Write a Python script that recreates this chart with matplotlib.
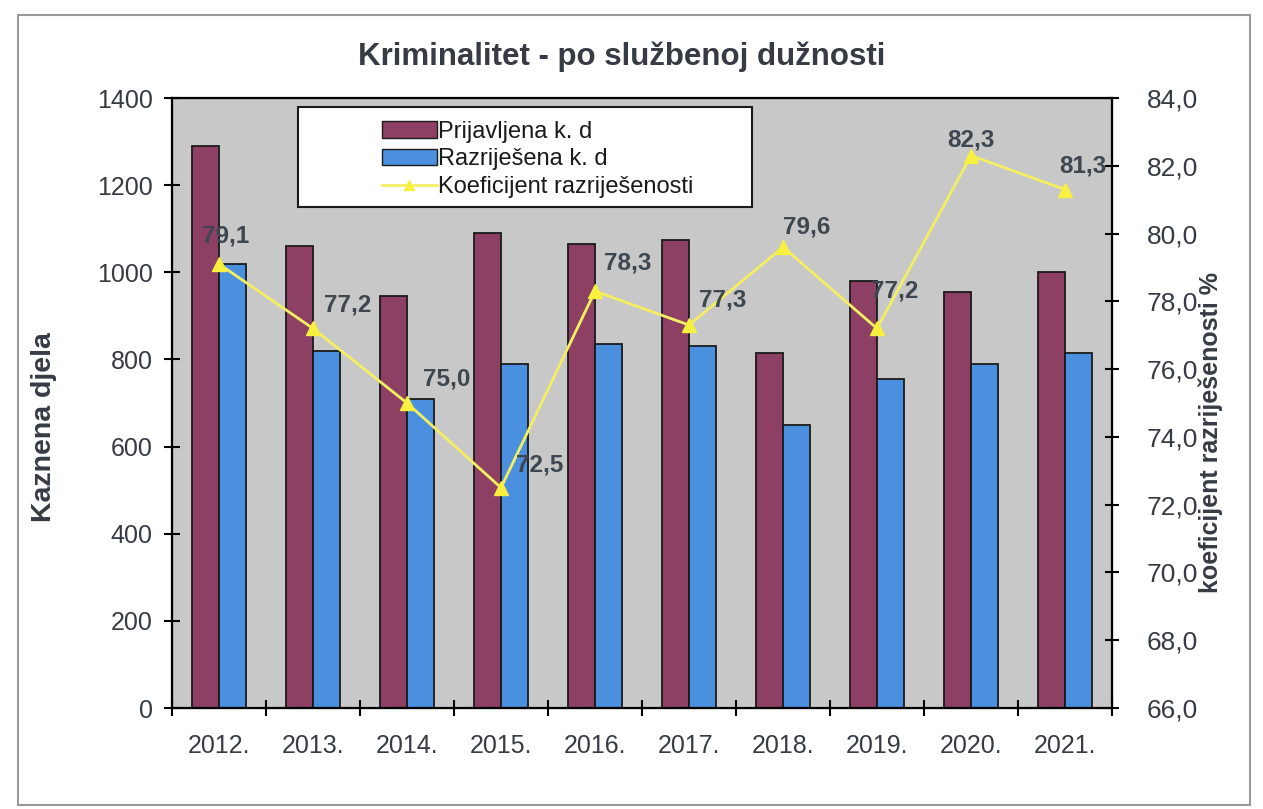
import numpy as np
import matplotlib.pyplot as plt
from matplotlib.patches import Rectangle
from matplotlib.lines import Line2D

years = ['2012.', '2013.', '2014.', '2015.', '2016.', '2017.', '2018.', '2019.', '2020.', '2021.']
prijavljena = [1290, 1060, 945, 1090, 1065, 1075, 815, 980, 955, 1000]
razrijesena = [1020, 820, 710, 790, 835, 830, 650, 755, 790, 815]
koeficijent = [79.1, 77.2, 75.0, 72.5, 78.3, 77.3, 79.6, 77.2, 82.3, 81.3]

# label offsets in pixels (dx, dy) from each marker
lbl_off = [(7, 28), (35, 23), (40, 24), (39, 23), (33, 28), (34, 25), (24, 20), (18, 37), (0, 16), (18, 23)]

plt.rcParams['font.family'] = ['Liberation Sans', 'DejaVu Sans']
txt = '#363b44'

fig = plt.figure(figsize=(12.63, 8.09), dpi=100)
fig.patches.append(Rectangle((18 / 1263, 4 / 809), 1232 / 1263, 790 / 809, transform=fig.transFigure,
                             fill=False, edgecolor='#9a9a9a', linewidth=1.5))
ax = fig.add_axes([172 / 1263, 1 - 708 / 809, 940 / 1263, 610 / 809])
ax.set_facecolor('#c8c8c8')

x = np.arange(len(years))
w = 0.29
ax.bar(x - w / 2, prijavljena, w, color='#8e3f64', edgecolor='#1a1a1a', linewidth=1.3, zorder=2)
ax.bar(x + w / 2, razrijesena, w, color='#4b8fdf', edgecolor='#1a1a1a', linewidth=1.3, zorder=2)
ax.set_xlim(-0.5, len(years) - 0.5)
ax.set_ylim(0, 1400)
ax.set_yticks(range(0, 1401, 200))
ax.set_xticks(x)
ax.set_xticklabels(years)
ax.set_xticks(np.arange(-0.5, len(years), 1), minor=True)
ax.tick_params(axis='x', which='major', length=0, labelsize=18, labelcolor=txt, pad=19)
ax.tick_params(axis='x', which='minor', length=12, direction='inout', width=1.5)
ax.tick_params(axis='y', length=12, direction='inout', width=1.5, labelsize=18, labelcolor=txt, pad=8)
for s in ax.spines.values():
    s.set_linewidth(1.6)
ax.set_ylabel('Kaznena djela', fontsize=20.5, fontweight='bold', color=txt)
ax.yaxis.set_label_coords(-0.122, 0.46)

ax2 = ax.twinx()
ax2.plot(x, koeficijent, color='#f4ef62', linewidth=2, marker='^', markersize=10,
         markerfacecolor='#f8f040', markeredgecolor='#f8f040', zorder=3)
ax2.set_ylim(66, 84)
ax2.set_yticks(np.arange(66, 84.1, 2))
ax2.set_yticklabels([('%.1f' % v).replace('.', ',') for v in np.arange(66, 84.1, 2)])
ax2.tick_params(axis='y', length=10, direction='inout', width=1.5, labelsize=19, labelcolor=txt, pad=20)
ax2.set_ylabel('koeficijent razriješenosti %', fontsize=18, fontweight='bold', color=txt)
ax2.yaxis.set_label_coords(1.092, 0.451)

for xi, v, (dx, dy) in zip(x, koeficijent, lbl_off):
    ax2.annotate(('%.1f' % v).replace('.', ','), (xi, v), xytext=(dx * 0.72, dy * 0.72),
                 textcoords='offset points', ha='center', va='center',
                 fontsize=17.5, fontweight='bold', color='#3e4650')

ax.set_title('Kriminalitet - po službenoj dužnosti', fontsize=22.5, fontweight='bold', color=txt,
             pad=24, x=0.478)

# legend box
ax2.add_patch(Rectangle((0.134, 0.821), 0.483, 0.164, transform=ax2.transAxes,
                        facecolor='white', edgecolor='#1a1a1a', linewidth=1.5, zorder=4))
handles = [Rectangle((0, 0), 1, 1, facecolor='#8e3f64', edgecolor='#1a1a1a'),
           Rectangle((0, 0), 1, 1, facecolor='#4b8fdf', edgecolor='#1a1a1a'),
           Line2D([], [], color='#f4ef62', linewidth=2, marker='^', markersize=7,
                  markerfacecolor='#f8f040', markeredgecolor='#f8f040')]
leg = ax2.legend(handles, ['Prijavljena k. d', 'Razriješena k. d', 'Koeficijent razriješenosti'],
                 loc='upper left', bbox_to_anchor=((385 - 172) / 940 - 0.023, 0.994), frameon=False,
                 handlelength=2.3, handleheight=0.7, handletextpad=0.08, labelspacing=0.25,
                 borderpad=0.3, prop={'family': ['Liberation Sans Narrow', 'Liberation Sans'], 'size': 17})
leg.set_zorder(5)
for t in leg.get_texts():
    t.set_color('#1a1a1a')

fig.savefig('out.png', dpi=100)
